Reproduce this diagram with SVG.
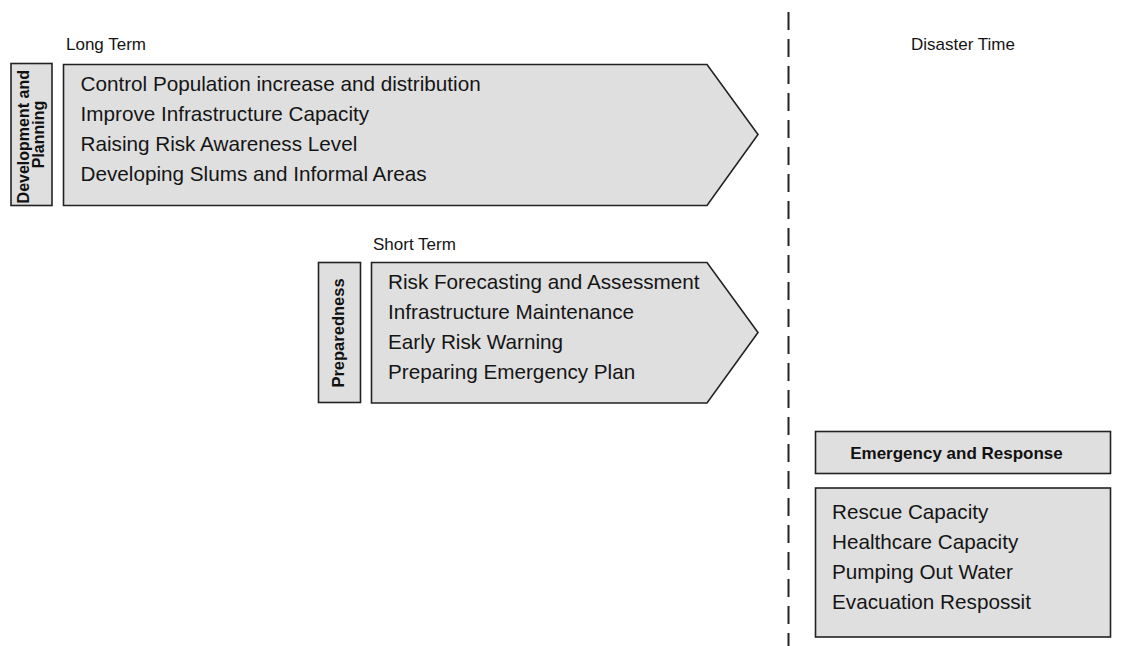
<svg xmlns="http://www.w3.org/2000/svg" width="1130" height="646" viewBox="0 0 1130 646">
  <style>
    .box { fill: #dfdfdf; stroke: #222; stroke-width: 1.6; }
    .item { font-family: "Liberation Sans", Arial, sans-serif; font-size: 20.7px; fill: #151515; }
    .label { font-family: "Liberation Sans", Arial, sans-serif; font-size: 17px; fill: #151515; }
    .head { font-family: "Liberation Sans", Arial, sans-serif; font-size: 16px; font-weight: bold; fill: #111; }
    .divider { stroke: #222; stroke-width: 2; stroke-dasharray: 18 9; fill: none; }
  </style>
  <rect width="1130" height="646" fill="#ffffff"/>

  <!-- time divider -->
  <g id="connectors">
    <line class="divider" x1="788.5" y1="12" x2="788.5" y2="646"/>
  </g>

  <text class="label" x="66" y="49.5">Long Term</text>
  <text class="label" x="373" y="250">Short Term</text>
  <text class="label" x="963" y="49.5" text-anchor="middle">Disaster Time</text>

  <!-- long-term phase -->
  <g id="development-label">
    <rect class="box" x="11" y="63.5" width="41" height="142"/>
    <text class="head" transform="translate(31.5,134.5) rotate(-90)" text-anchor="middle">
      <tspan x="0" y="-3">Development and</tspan>
      <tspan x="0" y="12">Planning</tspan>
    </text>
  </g>
  <g id="development-actions">
    <polygon class="box" points="63.5,64.5 707,64.5 758,134.5 707,205.5 63.5,205.5"/>
    <text class="item" x="80.5" y="91">Control Population increase and distribution</text>
    <text class="item" x="80.5" y="121">Improve Infrastructure Capacity</text>
    <text class="item" x="80.5" y="151">Raising Risk Awareness Level</text>
    <text class="item" x="80.5" y="181">Developing Slums and Informal Areas</text>
  </g>

  <!-- short-term phase -->
  <g id="preparedness-label">
    <rect class="box" x="318.5" y="262.5" width="42" height="140"/>
    <text class="head" transform="translate(343.5,333) rotate(-90)" text-anchor="middle" style="font-size:16.5px">Preparedness</text>
  </g>
  <g id="preparedness-actions">
    <polygon class="box" points="371.5,262.5 707,262.5 758,332.5 707,403 371.5,403"/>
    <text class="item" x="388" y="289">Risk Forecasting and Assessment</text>
    <text class="item" x="388" y="319">Infrastructure Maintenance</text>
    <text class="item" x="388" y="349">Early Risk Warning</text>
    <text class="item" x="388" y="379">Preparing Emergency Plan</text>
  </g>

  <!-- disaster-time phase -->
  <g id="emergency-label">
    <rect class="box" x="815.5" y="431.5" width="295" height="42"/>
    <text class="head" x="956.5" y="458.5" text-anchor="middle" style="font-size:17px">Emergency and Response</text>
  </g>
  <g id="emergency-actions">
    <rect class="box" x="815.5" y="488" width="295" height="149"/>
    <text class="item" x="832" y="518.5">Rescue Capacity</text>
    <text class="item" x="832" y="548.5">Healthcare Capacity</text>
    <text class="item" x="832" y="578.5">Pumping Out Water</text>
    <text class="item" x="832" y="608.5">Evacuation Respossit</text>
  </g>
</svg>
